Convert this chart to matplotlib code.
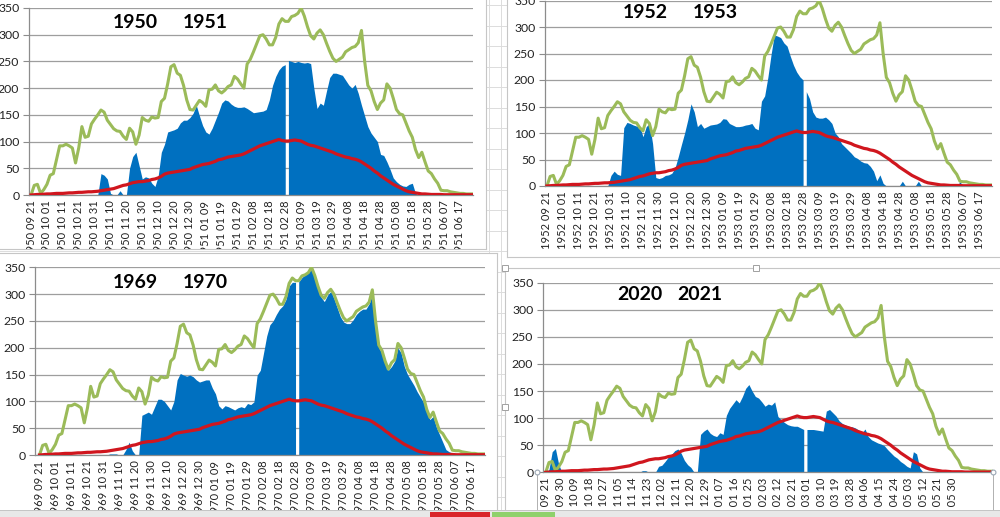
import numpy as np
import pandas as pd
import matplotlib
matplotlib.use('Agg')
import matplotlib.pyplot as plt
from matplotlib.patches import Rectangle
from matplotlib.transforms import Bbox, TransformedBbox

plt.rcParams['font.family'] = ['Lato', 'DejaVu Sans']

W, H = 1000, 517

# season calendar (leap style so that 02 29 is a row), one value every 2 days
calendar = pd.date_range('2019-09-21', '2020-06-26')
days = np.arange(0, len(calendar), 2)
feb29 = calendar.get_loc(pd.Timestamp('2020-02-29'))

# record (green)
record_max = [0, 18, 20, 3, 10, 20, 37, 40, 66, 92,
              92, 95, 92, 88, 60, 88, 128, 108, 110, 133,
              142, 150, 159, 155, 140, 132, 124, 120, 119, 110,
              104, 125, 118, 95, 112, 145, 140, 138, 146, 144,
              145, 175, 181, 208, 240, 244, 228, 224, 205, 178,
              160, 159, 168, 177, 173, 166, 197, 198, 206, 195,
              191, 196, 203, 206, 222, 217, 208, 200, 245, 254,
              268, 283, 298, 300, 292, 281, 281, 295, 320, 330,
              325, 325, 334, 336, 340, 350, 335, 315, 298, 292,
              303, 309, 300, 284, 269, 256, 250, 254, 258, 268,
              272, 276, 278, 285, 308, 250, 205, 195, 175, 160,
              172, 178, 208, 200, 181, 160, 152, 150, 135, 120,
              108, 85, 70, 80, 62, 45, 40, 30, 22, 9,
              8, 8, 6, 5, 4, 3, 3, 2, 2, 2]

# mean (red)
mean_val = [0, 0.5, 1, 1, 1.5, 2, 2, 2.5, 3, 3,
            3, 3.5, 4, 4, 4.5, 5, 5, 5.5, 6, 6,
            6.5, 7, 8, 9, 10, 11, 12, 14, 16, 18,
            19, 21, 23, 24, 25, 25, 26, 27, 29, 30,
            32, 35, 39, 41, 42, 43, 44, 45, 46, 47,
            48, 51, 53, 55, 57, 58, 59, 61, 63, 66,
            67, 69, 71, 72, 73, 74, 75, 77, 80, 83,
            86, 89, 92, 94, 96, 98, 100, 102, 104, 102,
            101, 101, 102, 103, 102, 101, 98, 95, 93, 92,
            90, 88, 86, 84, 82, 80, 77, 75, 73, 71,
            70, 68, 67, 65, 62, 58, 54, 50, 45, 41,
            36, 32, 28, 24, 20, 17, 14, 11, 8, 6,
            5, 4, 3, 2, 2, 1.5, 1, 1, 1, 1,
            0.5, 0.5, 0.5, 0.5, 0.5, 0.5, 0.5, 0.5, 0.5, 0.5]

season_1950 = [0, 0, 0, 0, 0, 0, 0, 0, 0, 0,
               0, 0, 0, 0, 0, 0, 0, 0, 0, 0,
               0, 0, 40, 37, 30, 3, 0, 0, 8, 0,
               0, 50, 72, 80, 55, 30, 34, 32, 22, 16,
               35, 80, 95, 118, 120, 122, 125, 135, 140, 140,
               145, 153, 168, 148, 130, 118, 114, 125, 140, 155,
               172, 178, 176, 170, 166, 164, 164, 165, 162, 158,
               154, 155, 156, 157, 160, 178, 205, 222, 234, 241,
               244, 252, 250, 248, 250, 248, 247, 248, 246, 200,
               162, 172, 168, 195, 220, 228, 228, 226, 224, 215,
               206, 200, 207, 190, 168, 148, 128, 116, 108, 100,
               76, 74, 62, 48, 32, 25, 20, 17, 16, 20,
               22, 3, 0, 0, 0, 0, 0, 0, 0, 0,
               0, 0, 0, 0, 0, 0, 0, 0, 0, 0]

season_1952 = [0, 0, 0, 0, 0, 0, 5, 0, 0, 0,
               0, 0, 0, 0, 0, 0, 0, 0, 0, 0,
               20, 28, 22, 20, 110, 120, 118, 115, 113, 112,
               93, 112, 118, 80, 16, 14, 16, 20, 21, 24,
               34, 55, 78, 100, 125, 155, 140, 112, 118, 109,
               112, 115, 116, 117, 120, 127, 126, 118, 115, 112,
               112, 113, 115, 116, 118, 109, 106, 160, 170, 205,
               248, 285, 283, 280, 270, 264, 245, 228, 215, 206,
               200, 178, 165, 140, 130, 128, 128, 130, 125, 118,
               100, 93, 80, 74, 68, 62, 55, 52, 47, 44,
               43, 37, 28, 10, 21, 5, 0, 0, 0, 0,
               0, 9, 0, 0, 0, 0, 9, 0, 0, 0,
               0, 0, 0, 0, 0, 0, 0, 0, 0, 8,
               0, 0, 0, 0, 0, 0, 0, 0, 0, 0]

season_1969 = [0, 0, 0, 0, 0, 0, 0, 0, 0, 0,
               0, 0, 0, 0, 0, 0, 0, 0, 0, 0,
               0, 0, 2, 2, 2, 0, 0, 10, 24, 8,
               0, 0, 74, 77, 80, 76, 90, 104, 104, 100,
               92, 84, 100, 140, 152, 149, 147, 149, 146, 140,
               136, 138, 140, 140, 125, 114, 92, 86, 92, 90,
               87, 84, 88, 90, 88, 96, 94, 99, 149, 158,
               190, 222, 243, 250, 262, 272, 278, 290, 315, 322,
               322, 323, 331, 336, 340, 348, 333, 312, 294, 286,
               298, 305, 292, 275, 258, 248, 245, 245, 252, 262,
               268, 272, 272, 282, 300, 240, 200, 190, 170, 158,
               165, 175, 200, 190, 165, 150, 140, 130, 118, 108,
               98, 80, 66, 72, 52, 38, 24, 10, 6, 4,
               3, 2, 1, 0, 0, 0, 0, 0, 0, 0]

season_2020 = [0, 5, 38, 44, 15, 0, 0, 0, 0, 0,
               0, 0, 0, 0, 0, 0, 0, 0, 0, 0,
               0, 0, 0, 0, 0, 0, 0, 0, 0, 0,
               3, 3, 0, 0, 0, 11, 13, 20, 28, 33,
               40, 43, 35, 22, 14, 9, 0, 0, 70, 76,
               80, 72, 68, 66, 73, 70, 105, 118, 126, 134,
               128, 140, 155, 162, 150, 140, 137, 130, 122, 126,
               124, 130, 103, 97, 92, 88, 86, 85, 85, 82,
               79, 79, 79, 79, 78, 77, 76, 113, 116, 110,
               104, 95, 90, 87, 85, 84, 82, 78, 72, 80,
               66, 60, 57, 54, 52, 49, 42, 36, 30, 26,
               20, 16, 11, 8, 38, 34, 8, 0, 0, 0,
               0, 0, 0, 0, 0, 0, 0, 0, 0, 0,
               0, 0, 0, 0, 0, 0, 0, 0, 0, 0]

BLUE = '#0070c0'
GREEN = '#9bbb59'
RED = '#d0161e'
GRID = '#9e9e9e'
AXIS = '#8c8c8c'


def fig_rect(x0, y0, x1, y1):
    # pixel box (top-left origin) -> figure fraction [l, b, w, h]
    return [x0 / W, 1 - y1 / H, (x1 - x0) / W, (y1 - y0) / H]


def tick_labels(y1, y2, every, last):
    pos, txt = [], []
    for i in range(0, last + 1, every):
        d = calendar[i]
        yr = y1 if d.month >= 9 else y2
        pos.append(i)
        txt.append(f"{yr} {d.month:02d} {d.day:02d}")
    return pos, txt


panels = [
    dict(box=(-3, -5, 486, 249), plot=(29, 8, 473, 195), xlim=(-1.3, 278.2),
         years=(1950, 1951), vals=season_1950, every=10, last=270,
         titles=((113, 23), (183, 23))),
    dict(box=(507, -5, 1005, 257), plot=(545, 0.5, 992, 186), xlim=(-1.2, 278.0),
         years=(1952, 1953), vals=season_1952, every=10, last=270,
         titles=((623, 13), (693, 13))),
    dict(box=(-3, 253, 497, 522), plot=(35, 267.3, 485, 455), xlim=(-2.8, 278.4),
         years=(1969, 1970), vals=season_1969, every=10, last=270,
         titles=((113, 282), (183, 282))),
    dict(box=(505, 268, 1005, 522), plot=(543, 282.7, 992.7, 472.3), xlim=(-1.7, 277.2),
         years=(2020, 2021), vals=season_2020, every=9, last=252,
         titles=((617, 295), (677, 295))),
]

fig = plt.figure(figsize=(W / 100, H / 100), dpi=100)

# spreadsheet cells behind the charts
bg = fig.add_axes([0, 0, 1, 1], zorder=-10)
bg.set_xlim(0, W)
bg.set_ylim(H, 0)
bg.axis('off')
for yy in np.arange(5, H, 20.5):
    bg.axhline(yy, color='#dcdcdc', lw=0.7)
for xx in [489, 501]:
    bg.axvline(xx, color='#dcdcdc', lw=0.7)

days_arr = np.asarray(days)
left = days_arr < feb29
right = days_arr > feb29

z = 1
for p in panels:
    box_ax = fig.add_axes(fig_rect(*p['box']), zorder=z)
    box_ax.set_xticks([])
    box_ax.set_yticks([])
    box_ax.set_facecolor('white')
    for s in box_ax.spines.values():
        s.set_color('#c6c6c6')
        s.set_linewidth(0.8)

    ax = fig.add_axes(fig_rect(*p['plot']), zorder=z + 1)
    ax.set_facecolor('none')
    vals = np.asarray(p['vals'], dtype=float)
    ax.fill_between(days_arr[left], vals[left], color=BLUE, lw=0, zorder=2)
    ax.fill_between(days_arr[right], vals[right], color=BLUE, lw=0, zorder=2)
    ax.plot(days_arr, record_max, color=GREEN, lw=2.2, zorder=3)
    ax.plot(days_arr, mean_val, color=RED, lw=2.3, zorder=4)

    ax.set_xlim(*p['xlim'])
    ax.set_ylim(0, 350)
    ax.set_yticks(range(0, 351, 50))
    ax.yaxis.grid(True, color=GRID, lw=0.9)
    ax.set_axisbelow(True)
    pos, txt = tick_labels(*p['years'], p['every'], p['last'])
    ax.set_xticks(pos)
    ax.set_xticklabels(txt, rotation=90, fontsize=8.0, color='#222222')
    ax.tick_params(axis='x', length=0, pad=4)
    ax.tick_params(axis='y', length=4, color=AXIS, pad=3, labelsize=8.8,
                   labelcolor='#222222')
    for s in ['top', 'right']:
        ax.spines[s].set_visible(False)
    for s in ['left', 'bottom']:
        ax.spines[s].set_color(AXIS)
        ax.spines[s].set_linewidth(0.9)

    clip = TransformedBbox(Bbox.from_bounds(*fig_rect(*p['box'])), fig.transFigure)
    for lbl in ax.get_xticklabels() + ax.get_yticklabels():
        lbl.set_clip_box(clip)
        lbl.set_clip_on(True)

    for (tx, ty), yr in zip(p['titles'], p['years']):
        fig.text(tx / W, 1 - ty / H, str(yr), fontsize=14, fontweight='bold',
                 ha='left', va='center', color='black', zorder=z + 2)
    z += 2

# overlay: selection marks on the last chart and the sheet tab bar
ov = fig.add_axes([0, 0, 1, 1], zorder=50)
ov.set_xlim(0, W)
ov.set_ylim(H, 0)
ov.axis('off')
ov.plot([537, 537], [472.3, 510], color='#b0b0b0', lw=0.7)
ov.plot([993, 993], [472.3, 510], color='#b0b0b0', lw=0.7)
ov.plot([537, 993], [472.3, 472.3], 'o', ms=3.5, mfc='white', mec='#9aa6b4', mew=0.8)
for hx, hy in [(505, 268), (756, 268), (505, 407)]:
    ov.add_patch(Rectangle((hx - 3, hy - 3), 6, 6, fc='white', ec='#a0a0a0', lw=0.7))
ov.add_patch(Rectangle((0, 510), W, 8, fc='#e8e8e8', ec='none'))
ov.plot([0, W], [510, 510], color='#c4c4c4', lw=0.7)
ov.add_patch(Rectangle((430, 511.5), 60, 6, fc='#d9262b', ec='none'))
ov.add_patch(Rectangle((492, 511.5), 63, 6, fc='#8fd16b', ec='none'))

fig.savefig('out.png', dpi=100)
